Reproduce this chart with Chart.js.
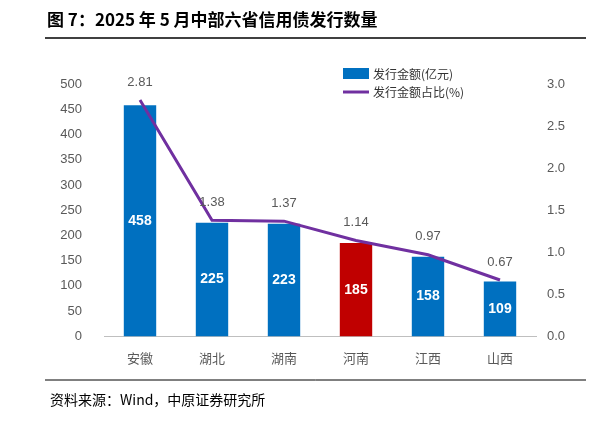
<!DOCTYPE html>
<html><head><meta charset="utf-8">
<script src="https://cdn.jsdelivr.net/npm/chart.js@4"></script>
<style>html,body{margin:0;padding:0;background:#fff;}canvas{display:block}</style>
</head><body>
<div style="width:612px;height:422px"><canvas id="c" width="612" height="422"></canvas></div>
<script>
const categories=['安徽','湖北','湖南','河南','江西','山西'];
const amounts=[458,225,223,185,158,109];
const shares=[2.81,1.38,1.37,1.14,0.97,0.67];
const leftTicks=[0,50,100,150,200,250,300,350,400,450,500];
const rightTicks=[0,0.5,1,1.5,2,2.5,3];
const F='"Noto Sans CJK SC","Liberation Sans",sans-serif';
const deco={id:'deco',afterDraw(ch){
 const c=ch.ctx;c.save();
 c.fillStyle='#000';c.font='bold 17px '+F;c.textBaseline='middle';
 c.fillText('图 7：2025 年 5 月中部六省信用债发行数量',47,20);
 c.strokeStyle='#000';c.lineWidth=1.5;c.beginPath();c.moveTo(45,38);c.lineTo(586,38);c.stroke();
 c.lineWidth=1;c.beginPath();c.moveTo(45,380);c.lineTo(586,380);c.stroke();
 c.font='14px '+F;c.fillText('资料来源：Wind，中原证券研究所',50,400);
 const m=ch.getDatasetMeta(0);
 c.fillStyle='#fff';c.font='bold 14px "Liberation Sans",sans-serif';c.textAlign='center';
 m.data.forEach((b,i)=>{c.fillText(amounts[i],b.x,(b.y+b.base)/2);});
 const l=ch.getDatasetMeta(1);
 c.fillStyle='#595959';c.font='13px "Liberation Sans",sans-serif';
 l.data.forEach((p,i)=>{c.fillText(shares[i].toFixed(2),p.x,p.y-18);});
 c.textAlign='left';c.fillStyle='#0070C0';c.fillRect(343,68,26,11);
 c.strokeStyle='#7030A0';c.lineWidth=3;c.beginPath();c.moveTo(343,92);c.lineTo(369,92);c.stroke();
 c.fillStyle='#333';c.font='12px '+F;
 c.fillText('发行金额(亿元)',373,74);c.fillText('发行金额占比(%)',373,92);
 c.restore();}};
new Chart(document.getElementById('c'),{
 data:{labels:categories,datasets:[
  {type:'bar',data:amounts,yAxisID:'y',backgroundColor:categories.map((c,i)=>i===3?'#C00000':'#0070C0'),barPercentage:0.45,categoryPercentage:1,order:1},
  {type:'line',data:shares,yAxisID:'y1',borderColor:'#7030A0',borderWidth:3,pointRadius:0,order:0}
 ]},
 options:{responsive:false,animation:false,
  layout:{padding:{left:45,right:36,top:84,bottom:50}},
  plugins:{legend:{display:false},tooltip:{enabled:false}},
  scales:{
   x:{grid:{display:false},border:{color:'#bfbfbf'},ticks:{color:'#595959',font:{size:13,family:F},padding:6}},
   y:{position:'left',min:0,max:500,afterBuildTicks(s){s.ticks=leftTicks.map(v=>({value:v}))},afterFit(s){s.width=59},grid:{display:false},border:{display:false},ticks:{color:'#595959',font:{size:13,family:'"Liberation Sans"'},padding:14}},
   y1:{position:'right',min:0,max:3,afterBuildTicks(s){s.ticks=rightTicks.map(v=>({value:v}))},afterFit(s){s.width=40},grid:{display:false},border:{display:false},ticks:{color:'#595959',font:{size:13,family:'"Liberation Sans"'},callback:v=>v.toFixed(1)}}
  }},
 plugins:[deco]});
</script></body></html>
